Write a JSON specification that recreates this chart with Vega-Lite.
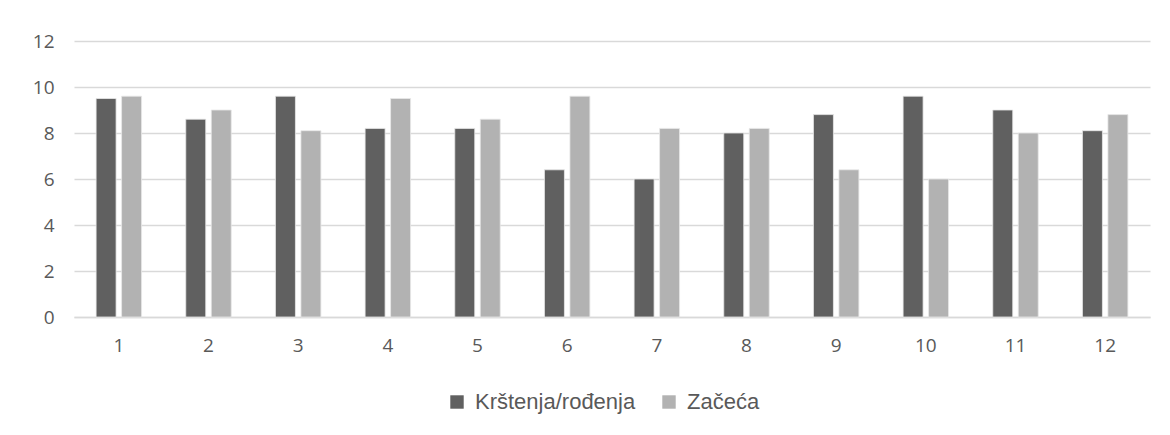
{
  "$schema": "https://vega.github.io/schema/vega-lite/v6.json",
  "width": 1076,
  "height": 276,
  "autosize": {"type": "none"},
  "padding": {"left": 74, "top": 41, "right": 20, "bottom": 118},
  "background": "white",
  "config": {"view": {"stroke": null}},
  "data": {
    "values": [
      {"m": 1, "s": "Krštenja/rođenja", "v": 9.5}, {"m": 1, "s": "Začeća", "v": 9.6},
      {"m": 2, "s": "Krštenja/rođenja", "v": 8.6}, {"m": 2, "s": "Začeća", "v": 9.0},
      {"m": 3, "s": "Krštenja/rođenja", "v": 9.6}, {"m": 3, "s": "Začeća", "v": 8.1},
      {"m": 4, "s": "Krštenja/rođenja", "v": 8.2}, {"m": 4, "s": "Začeća", "v": 9.5},
      {"m": 5, "s": "Krštenja/rođenja", "v": 8.2}, {"m": 5, "s": "Začeća", "v": 8.6},
      {"m": 6, "s": "Krštenja/rođenja", "v": 6.4}, {"m": 6, "s": "Začeća", "v": 9.6},
      {"m": 7, "s": "Krštenja/rođenja", "v": 6.0}, {"m": 7, "s": "Začeća", "v": 8.2},
      {"m": 8, "s": "Krštenja/rođenja", "v": 8.0}, {"m": 8, "s": "Začeća", "v": 8.2},
      {"m": 9, "s": "Krštenja/rođenja", "v": 8.8}, {"m": 9, "s": "Začeća", "v": 6.4},
      {"m": 10, "s": "Krštenja/rođenja", "v": 9.6}, {"m": 10, "s": "Začeća", "v": 6.0},
      {"m": 11, "s": "Krštenja/rođenja", "v": 9.0}, {"m": 11, "s": "Začeća", "v": 8.0},
      {"m": 12, "s": "Krštenja/rođenja", "v": 8.1}, {"m": 12, "s": "Začeća", "v": 8.8}
    ]
  },
  "mark": {"type": "bar", "stroke": "#e8e8e8", "strokeWidth": 0.8},
  "encoding": {
    "x": {
      "field": "m", "type": "ordinal", "title": null,
      "scale": {"paddingInner": 0.493, "paddingOuter": 0.2465},
      "axis": {
        "labelAngle": 0, "labelFont": "Open Sans", "labelFontSize": 19, "labelColor": "#595959",
        "domainColor": "#d9d9d9", "domainWidth": 1.5, "ticks": false, "labelPadding": 19, "grid": false
      }
    },
    "xOffset": {
      "field": "s", "type": "nominal",
      "scale": {"paddingInner": 0.216, "paddingOuter": 0}
    },
    "y": {
      "field": "v", "type": "quantitative", "title": null,
      "scale": {"domain": [0, 12]},
      "axis": {
        "values": [0, 2, 4, 6, 8, 10, 12], "labelFont": "Open Sans", "labelFontSize": 19, "labelColor": "#595959",
        "domain": false, "ticks": false, "labelPadding": 20, "gridColor": "#d9d9d9", "gridWidth": 1.5
      }
    },
    "color": {
      "field": "s", "type": "nominal", "title": null,
      "scale": {"domain": ["Krštenja/rođenja", "Začeća"], "range": ["#606060", "#b2b2b2"]},
      "legend": {
        "orient": "none", "direction": "horizontal", "legendX": 372, "legendY": 350,
        "symbolType": "square", "symbolSize": 180, "symbolStrokeWidth": 0,
        "labelFont": "Liberation Sans", "labelFontSize": 22, "labelColor": "#595959",
        "labelLimit": 400, "columnPadding": 22, "labelOffset": 7
      }
    }
  }
}
